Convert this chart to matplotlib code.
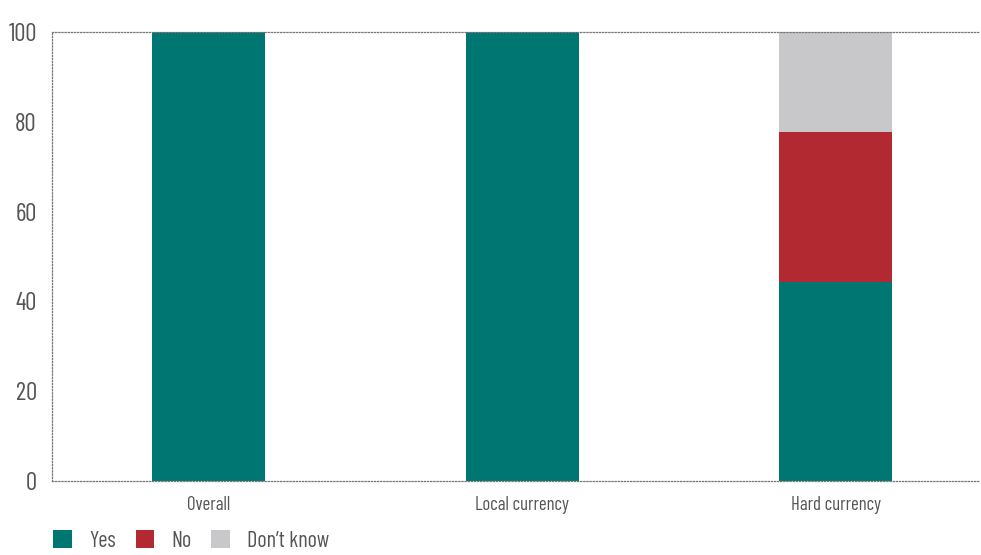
import matplotlib
matplotlib.use("Agg")
import matplotlib.pyplot as plt
import numpy as np

# data
categories = ["Overall", "Local currency", "Hard currency"]
yes = [100, 100, 44.4]
no = [0, 0, 33.3]
dont_know = [0, 0, 22.2]
series_names = ["Yes", "No", "Don\u2019t know"]
colors = ["#007672", "#b22931", "#c8c8ca"]

plt.rcParams["font.family"] = ["Barlow Condensed", "DejaVu Sans"]

fig = plt.figure(figsize=(9.81, 5.55), dpi=100)
ax = fig.add_axes([0.053, 0.1333, 0.946, 0.809])

x = np.arange(len(categories))
w = 0.36
ax.bar(x, yes, w, color=colors[0], label=series_names[0])
ax.bar(x, no, w, bottom=yes, color=colors[1], label=series_names[1])
bottom2 = np.array(yes) + np.array(no)
ax.bar(x, dont_know, w, bottom=bottom2, color=colors[2], label=series_names[2])

ax.set_xlim(-0.5, 2.46)
ax.set_ylim(0, 100)
ax.set_yticks([0, 20, 40, 60, 80, 100])
ax.set_xticks(x)
ax.set_xticklabels(categories, fontsize=13.5, color="#555555")
ax.tick_params(axis="y", labelsize=18, labelcolor="#555555", length=0, pad=11)
ax.tick_params(axis="x", length=0, pad=11)

# dotted frame
for side in ["top", "left", "bottom"]:
    ax.spines[side].set_linestyle((0, (1, 1.5)))
    ax.spines[side].set_color("#777777")
    ax.spines[side].set_linewidth(0.9)
ax.spines["right"].set_visible(False)

leg = fig.legend(loc="lower left", bbox_to_anchor=(0.034, -0.03), ncol=3,
                 frameon=False, fontsize=16, handlelength=0.85, handleheight=0.85,
                 columnspacing=0.9, handletextpad=0.75, labelcolor="#555555")

fig.savefig("out.png", dpi=100)
